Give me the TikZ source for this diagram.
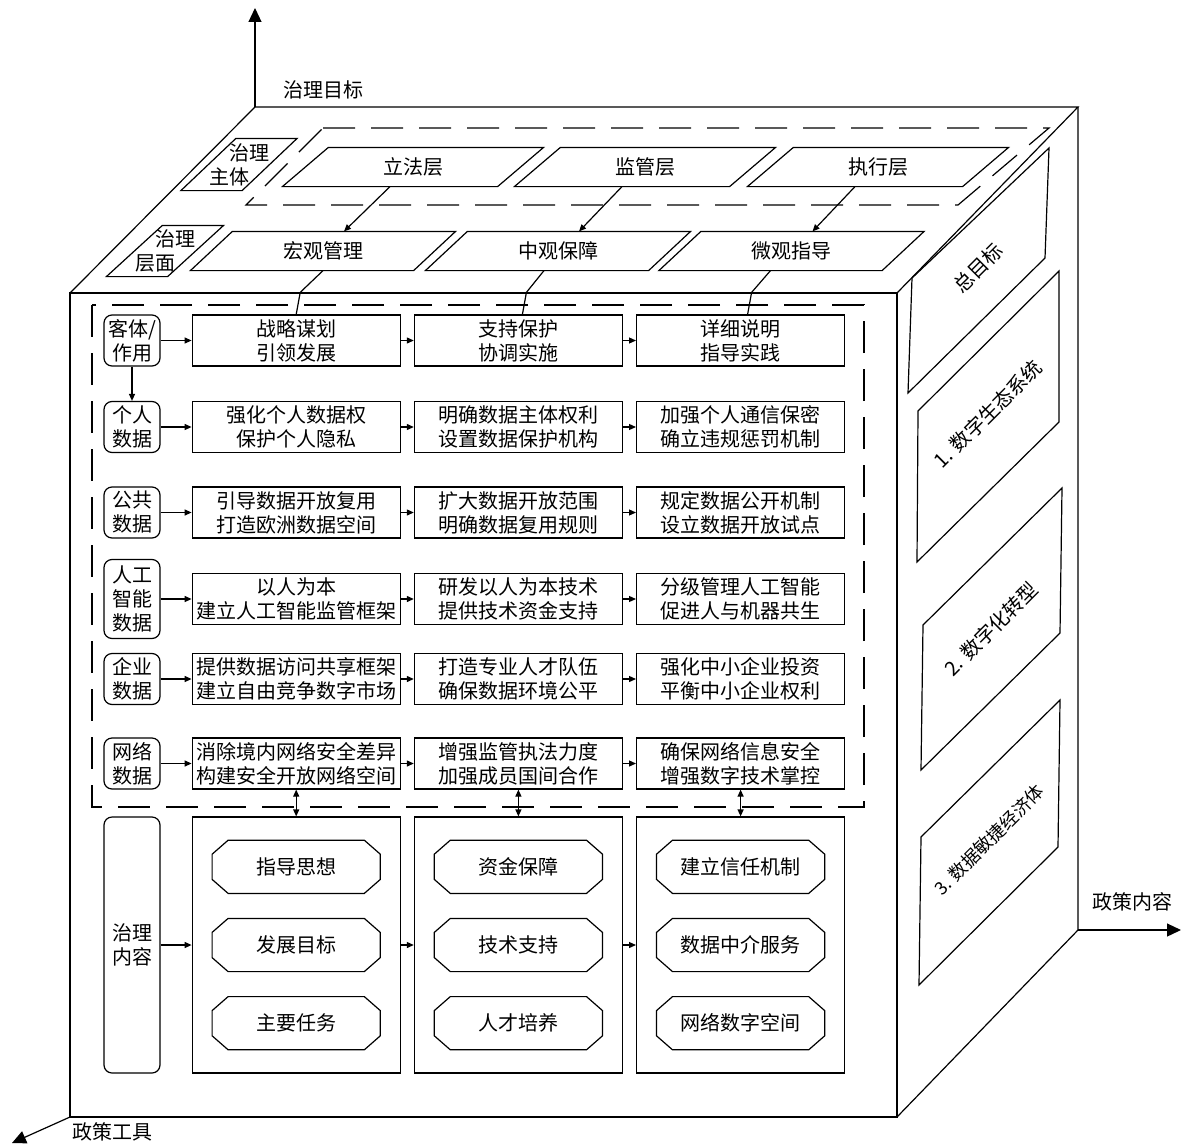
\documentclass[tikz,border=0pt]{standalone}
\usepackage{fontspec}
\setmainfont{Noto Sans CJK SC}
\usetikzlibrary{arrows.meta,positioning}

\tikzset{
  cell/.style={draw, minimum width=104pt, minimum height=25.5pt, inner sep=0pt, align=center},
  tag/.style={draw, rounded corners=4pt, minimum width=28pt, minimum height=25.5pt, inner sep=0pt, align=center},
  layer/.style={minimum width=107pt, minimum height=19pt, inner sep=0pt},
  level/.style={layer, minimum width=111pt},
  side/.style={minimum width=28pt, minimum height=25.5pt, inner sep=0pt, align=center},
  octbox/.style={minimum width=83.5pt, minimum height=26pt, inner sep=0pt},
  dashbox/.style={dash pattern=on 16pt off 8pt},
  axis/.style={-{Triangle[length=7pt,width=6.5pt]}}
}

\begin{document}
\begin{tikzpicture}[x=0.5pt, y=-0.5pt, line width=0.6pt, >={Triangle[length=3.5pt,width=3pt]}]
\useasboundingbox (0,0) rectangle (1182,1145);

% cube and axes
\coordinate (o1) at (255,107);
\coordinate (o2) at (1078,930);
\coordinate (o3) at (70,1117);
\coordinate (ztop) at (255,8);
\coordinate (zright) at (1181,930);
\coordinate (zleft) at (12,1143);
\draw (70,293) rectangle (897,1117);
\draw (70,293) -- (o1) -- (1078,107) -- (897,293);
\draw (1078,107) -- (o2) -- (897,1117);
\draw[axis] (o1) -- (ztop);
\draw[axis] (o2) -- (zright);
\draw[axis] (o3) -- (zleft);
\node (zlmb) at (323,90) {治理目标};
\node (zcnr) at (1132,902) {政策内容};
\node (zcgj) at (112,1132) {政策工具};

% top face
\draw[dashbox] (323,128) -- (1049,128) -- (958,205) -- (246,205) -- cycle;
\node[side] (zt) at (239,164.5) {\hspace*{10pt}治理\\主体\hspace*{10pt}};
\node[side, minimum height=25pt] (cm) at (165,251) {\hspace*{10pt}治理\\层面\hspace*{10pt}};
\node[layer] (lf) at (413,167) {立法层};
\node[layer] (jg) at (645,167) {监管层};
\node[layer] (zx) at (878,167) {执行层};
\node[level] (hg) at (323,251) {宏观管理};
\node[level] (zb) at (558,251) {中观保障};
\node[level] (wg) at (791.5,251) {微观指导};
\foreach \n/\e in {lf/11.5,jg/11.5,zx/11.5,hg/10.5,zb/10.5,wg/10.5,zt/13.75,cm/14}
  \draw ([xshift=\e pt]\n.north west) -- ([xshift=\e pt]\n.north east)
    -- ([xshift=-\e pt]\n.south east) -- ([xshift=-\e pt]\n.south west) -- cycle;
\draw[->] ([xshift=-11.5pt]lf.south) -- ([xshift=10.5pt]hg.north);
\draw[->] ([xshift=-11.5pt]jg.south) -- ([xshift=10.5pt]zb.north);
\draw[->] ([xshift=-11.5pt]zx.south) -- ([xshift=10.5pt]wg.north);

% right face
\draw (912,278) -- (1049,148) -- (1045,258) -- (908,393) -- cycle;
\draw (918,411) -- (1059,271) -- (1059,422) -- (917,562) -- cycle;
\draw (923,625) -- (1062,488) -- (1060,633) -- (921,770) -- cycle;
\draw (921,837) -- (1060,700) -- (1058,847) -- (919,985) -- cycle;
\node[rotate=45] (zmb) at (978,268) {总目标};
\node[rotate=45] (mb1) at (988,414) {1. 数字生态系统};
\node[rotate=45] (mb2) at (991,629) {2. 数字化转型};
\node[rotate=45, font=\small] (mb3) at (989,840) {3. 数据敏捷经济体};

% front face
\draw[dashbox] (92,305) rectangle (864,807);
\node[tag] (t1) at (132,340.5) {客体/\\作用};
\node[tag] (t2) at (132,427) {个人\\数据};
\node[tag] (t3) at (132,512.5) {公共\\数据};
\node[tag, minimum height=39.5pt] (t4) at (132,599) {人工\\智能\\数据};
\node[tag] (t5) at (132,679) {企业\\数据};
\node[tag] (t6) at (132,763.5) {网络\\数据};
\node[tag, minimum height=128pt] (t7) at (132,945) {治理\\内容};

\node[cell, right=15.5pt of t1] (c11) {战略谋划\\引领发展};
\node[cell, right=6.5pt of c11] (c12) {支持保护\\协调实施};
\node[cell, right=6.5pt of c12] (c13) {详细说明\\指导实践};
\node[cell, right=15.5pt of t2] (c21) {强化个人数据权\\保护个人隐私};
\node[cell, right=6.5pt of c21] (c22) {明确数据主体权利\\设置数据保护机构};
\node[cell, right=6.5pt of c22] (c23) {加强个人通信保密\\确立违规惩罚机制};
\node[cell, right=15.5pt of t3] (c31) {引导数据开放复用\\打造欧洲数据空间};
\node[cell, right=6.5pt of c31] (c32) {扩大数据开放范围\\明确数据复用规则};
\node[cell, right=6.5pt of c32] (c33) {规定数据公开机制\\设立数据开放试点};
\node[cell, right=15.5pt of t4] (c41) {以人为本\\建立人工智能监管框架};
\node[cell, right=6.5pt of c41] (c42) {研发以人为本技术\\提供技术资金支持};
\node[cell, right=6.5pt of c42] (c43) {分级管理人工智能\\促进人与机器共生};
\node[cell, right=15.5pt of t5] (c51) {提供数据访问共享框架\\建立自由竞争数字市场};
\node[cell, right=6.5pt of c51] (c52) {打造专业人才队伍\\确保数据环境公平};
\node[cell, right=6.5pt of c52] (c53) {强化中小企业投资\\平衡中小企业权利};
\node[cell, right=15.5pt of t6] (c61) {消除境内网络安全差异\\构建安全开放网络空间};
\node[cell, right=6.5pt of c61] (c62) {增强监管执法力度\\加强成员国间合作};
\node[cell, right=6.5pt of c62] (c63) {确保网络信息安全\\增强数字技术掌控};

\node[cell, minimum height=128pt, right=15.5pt of t7] (b1) {};
\node[cell, minimum height=128pt, right=6.5pt of b1] (b2) {};
\node[cell, minimum height=128pt, right=6.5pt of b2] (b3) {};

\node[octbox] (g12) at (b1) {发展目标};
\node[octbox, above=12.5pt of g12] (g11) {指导思想};
\node[octbox, below=12.5pt of g12] (g13) {主要任务};
\node[octbox] (g22) at (b2) {技术支持};
\node[octbox, above=12.5pt of g22] (g21) {资金保障};
\node[octbox, below=12.5pt of g22] (g23) {人才培养};
\node[octbox] (g32) at (b3) {数据中介服务};
\node[octbox, above=12.5pt of g32] (g31) {建立信任机制};
\node[octbox, below=12.5pt of g32] (g33) {网络数字空间};
\foreach \g in {g11,g12,g13,g21,g22,g23,g31,g32,g33}
  \draw ([xshift=8pt]\g.north west) -- ([xshift=-8pt]\g.north east) -- ([yshift=-7pt]\g.north east)
    -- ([yshift=7pt]\g.south east) -- ([xshift=-8pt]\g.south east) -- ([xshift=8pt]\g.south west)
    -- ([yshift=7pt]\g.south west) -- ([yshift=-7pt]\g.north west) -- cycle;

% links from the top face
\draw (hg.south) -- ([shift={(2pt,11pt)}]c11.north) -- (c11.north);
\draw ([xshift=-7pt]zb.south) -- ([shift={(4pt,11pt)}]c12.north) -- ([xshift=2pt]c12.north);
\draw ([xshift=-10.5pt]wg.south) -- ([shift={(5.5pt,11pt)}]c13.north) -- ([xshift=3.5pt]c13.north);

\draw[->] (t1) -- (t2);
\foreach \r in {1,...,6} {
  \draw[->] (t\r) -- (c\r1);
  \draw[->] (c\r1) -- (c\r2);
  \draw[->] (c\r2) -- (c\r3);
}
\draw[->] (t7) -- (b1);
\draw[->] (b1) -- (b2);
\draw[->] (b2) -- (b3);
\draw[<->] (c61) -- (b1);
\draw[<->] (c62) -- (b2);
\draw[<->] (c63) -- (b3);
\end{tikzpicture}
\end{document}
